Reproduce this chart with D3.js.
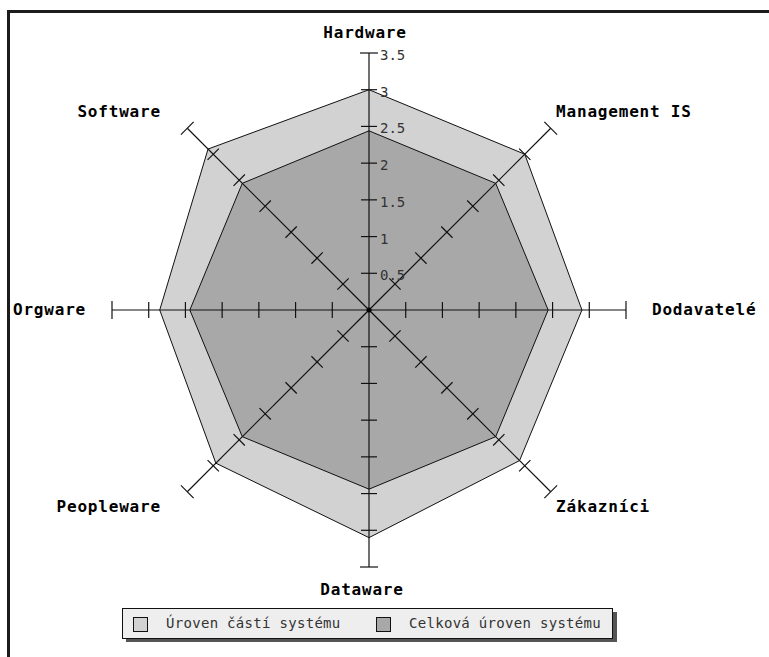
<!DOCTYPE html>
<html>
<head>
<meta charset="utf-8">
<script src="https://cdn.jsdelivr.net/npm/d3@7"></script>
<style>
  body { margin: 0; background: #fff; }
  svg { display: block; }
</style>
</head>
<body>
<div id="chart"></div>
<script>
// chart data
const categories = ["Hardware", "Management IS", "Dodavatelé", "Zákazníci", "Dataware", "Peopleware", "Orgware", "Software"];
const partLevels = [3.0, 3.0, 2.9, 2.9, 3.1, 2.95, 2.85, 3.1];
const totalLevels = [2.44, 2.44, 2.44, 2.44, 2.44, 2.44, 2.44, 2.44];
const tickValues = [0.5, 1, 1.5, 2, 2.5, 3, 3.5];
const tickLabels = ["0.5", "1", "1.5", "2", "2.5", "3", "3.5"];
const seriesNames = ["Úroven částí systému", "Celková úroven systému"];

const width = 769;
const height = 657;
const cx = 369, cy = 310;

const svg = d3.select("#chart")
  .append("svg")
  .attr("width", width)
  .attr("height", height);

// frame (cut off at right/bottom)
svg.append("rect")
  .attr("x", 8.5).attr("y", 11.5)
  .attr("width", 800).attr("height", 700)
  .attr("fill", "none")
  .attr("stroke", "#1c1c1c")
  .attr("stroke-width", 3);

const r = d3.scaleLinear().domain([0, 3.5]).range([0, 257]);
const angle = d3.scaleLinear().domain([0, categories.length]).range([0, 2 * Math.PI]);

const pt = (i, v) => [cx + r(v) * Math.sin(angle(i)), cy - r(v) * Math.cos(angle(i))];

const line = d3.line().curve(d3.curveLinearClosed);

// polygons
svg.append("path")
  .attr("d", line(partLevels.map((v, i) => pt(i, v))))
  .attr("fill", "#d2d2d2")
  .attr("stroke", "#111")
  .attr("stroke-width", 1);

svg.append("path")
  .attr("d", line(totalLevels.map((v, i) => pt(i, v))))
  .attr("fill", "#a8a8a8")
  .attr("stroke", "#111")
  .attr("stroke-width", 1);

// axes with ticks
const axes = svg.append("g");
categories.forEach((c, i) => {
  const a = angle(i);
  const [x2, y2] = pt(i, 3.5);
  axes.append("line")
    .attr("x1", cx).attr("y1", cy)
    .attr("x2", x2).attr("y2", y2)
    .attr("stroke", "#111")
    .attr("stroke-width", 1.2);
  // perpendicular direction
  const px = Math.cos(a), py = Math.sin(a);
  tickValues.forEach((t) => {
    const [tx, ty] = pt(i, t);
    const len = t === 3.5 ? 9 : 8;
    axes.append("line")
      .attr("x1", tx - px * len).attr("y1", ty - py * len)
      .attr("x2", tx + px * len).attr("y2", ty + py * len)
      .attr("stroke", "#111")
      .attr("stroke-width", 1.2);
  });
});

axes.append("circle")
  .attr("cx", cx).attr("cy", cy).attr("r", 2.5)
  .attr("fill", "#000");

// tick labels on the Hardware axis
svg.append("g")
  .selectAll("text")
  .data(tickValues)
  .join("text")
  .attr("x", cx + 11)
  .attr("y", (d) => cy - r(d) + 3)
  .attr("dominant-baseline", "middle")
  .attr("font-family", "DejaVu Sans Mono, monospace")
  .attr("font-size", 14)
  .attr("fill", "#333")
  .text((d, i) => tickLabels[i]);

// category labels
const labelR = 280;
svg.append("g")
  .selectAll("text")
  .data(categories)
  .join("text")
  .each(function (d, i) {
    const a = angle(i);
    const s = Math.sin(a), co = Math.cos(a);
    let x = cx + labelR * s;
    let y = cy - labelR * co;
    let anchor = "middle";
    if (s > 0.1) { anchor = "start"; x = cx + (labelR + 3) * s - (Math.abs(co) > 0.1 ? 13 : 0); }
    if (s < -0.1) { anchor = "end"; x = cx + (labelR + 3) * s - (Math.abs(co) > 0.1 ? 8 : 0); }
    if (co > 0.9) { y = cy - (labelR - 3); x = cx - 4; }
    if (co < -0.9) { x = cx - 7; }
    d3.select(this)
      .attr("x", x)
      .attr("y", y)
      .attr("text-anchor", anchor)
      .attr("dominant-baseline", "middle");
  })
  .attr("font-family", "DejaVu Sans Mono, monospace")
  .attr("font-weight", "bold")
  .attr("font-size", 16)
  .attr("letter-spacing", 0.8)
  .attr("fill", "#000")
  .text((d) => d);

// legend
const legend = svg.append("g");
legend.append("rect")
  .attr("x", 126).attr("y", 612)
  .attr("width", 491).attr("height", 30)
  .attr("fill", "#555");
legend.append("rect")
  .attr("x", 122.5).attr("y", 608.5)
  .attr("width", 490).attr("height", 30)
  .attr("fill", "#eeeeee")
  .attr("stroke", "#111");

const legendFills = ["#d2d2d2", "#a8a8a8"];
const legendX = [133, 376];
seriesNames.forEach((name, i) => {
  legend.append("rect")
    .attr("x", legendX[i] + 0.5).attr("y", 617.5)
    .attr("width", 14).attr("height", 14)
    .attr("fill", legendFills[i])
    .attr("stroke", "#111");
  legend.append("text")
    .attr("x", legendX[i] + 33)
    .attr("y", 624)
    .attr("dominant-baseline", "middle")
    .attr("font-family", "DejaVu Sans Mono, monospace")
    .attr("font-size", 14)
    .attr("letter-spacing", 0.3)
    .attr("fill", "#333")
    .text(name);
});
</script>
</body>
</html>
